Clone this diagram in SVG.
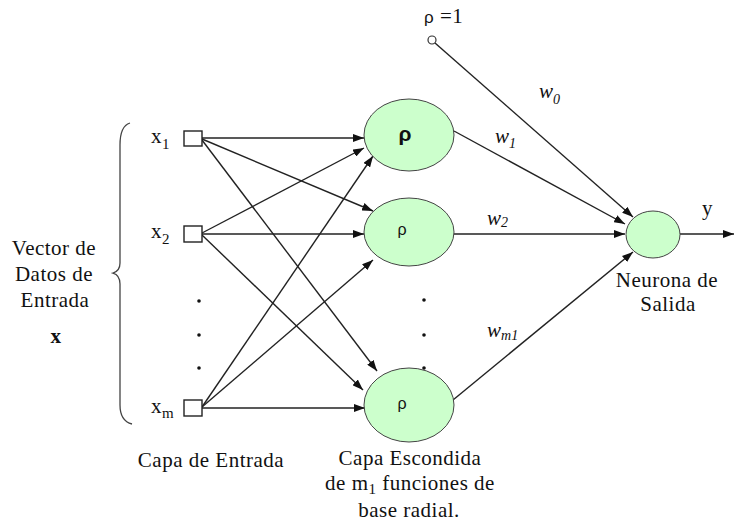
<svg xmlns="http://www.w3.org/2000/svg" width="734" height="525" viewBox="0 0 734 525">
  <defs>
    <marker id="arrow" markerUnits="userSpaceOnUse" markerWidth="11" markerHeight="8" refX="11" refY="4" orient="auto">
      <path d="M0,0 L11,4 L0,8 z" fill="#111"/>
    </marker>
    <style>
      .conn { stroke: #222; stroke-width: 1.4; fill: none; }
      .arr { marker-end: url(#arrow); }
      .hid { fill: #ccffcc; stroke: #444; stroke-width: 1; }
      .inp { fill: #fff; stroke: #222; stroke-width: 1.4; }
      .lbl { font-size: 21px; fill: #111; letter-spacing: 0.5px; }
      .mid { text-anchor: middle; }
      .w { font-style: italic; font-size: 21px; fill: #111; }
      .sub { font-size: 14px; }
      .xsub { font-size: 15px; }
      .rho { fill: #111; text-anchor: middle; font-family: "Liberation Sans", Arial, sans-serif; }
      .dot { fill: #111; }
    </style>
  </defs>

  <!-- connectors -->
  <g id="connectors">
    <!-- input layer to hidden layer -->
    <line class="conn arr" x1="202" y1="138" x2="364" y2="138"/>
    <line class="conn arr" x1="202" y1="139" x2="373" y2="211"/>
    <line class="conn arr" x1="202" y1="140" x2="377" y2="371"/>
    <line class="conn arr" x1="202" y1="233" x2="364" y2="148"/>
    <line class="conn arr" x1="202" y1="234" x2="364" y2="234"/>
    <line class="conn arr" x1="202" y1="235" x2="363" y2="390"/>
    <line class="conn arr" x1="202" y1="407" x2="373" y2="156"/>
    <line class="conn arr" x1="202" y1="407" x2="373" y2="260"/>
    <line class="conn arr" x1="202" y1="408" x2="365" y2="408"/>
    <!-- hidden layer and bias to output neuron -->
    <line class="conn arr" x1="435" y1="43" x2="633" y2="217"/>
    <line class="conn arr" x1="454" y1="131" x2="625" y2="224"/>
    <line class="conn arr" x1="454" y1="234" x2="625" y2="234"/>
    <line class="conn arr" x1="453" y1="400" x2="633" y2="252"/>
    <line class="conn arr" x1="680" y1="234" x2="734" y2="234"/>
  </g>

  <g font-family="'Liberation Serif', 'Times New Roman', serif">
    <!-- bracket grouping the input vector -->
    <path d="M130,123 Q120,126 120,145 L120,263 Q120,271 113,273 Q120,275 120,284 L120,405 Q120,421 132,424" fill="none" stroke="#444" stroke-width="1.3"/>
    <text class="lbl mid" x="54" y="255">Vector de</text>
    <text class="lbl mid" x="54" y="281">Datos de</text>
    <text class="lbl mid" x="55" y="307">Entrada</text>
    <text class="lbl mid" x="56" y="343" font-weight="bold">x</text>

    <!-- input nodes -->
    <g id="x1">
      <rect class="inp" x="184" y="131" width="18" height="15"/>
      <text class="lbl" x="151" y="143">x<tspan class="xsub" dy="6">1</tspan></text>
    </g>
    <g id="x2">
      <rect class="inp" x="184" y="226" width="18" height="16"/>
      <text class="lbl" x="151" y="238">x<tspan class="xsub" dy="6">2</tspan></text>
    </g>
    <g id="xm">
      <rect class="inp" x="184" y="400" width="18" height="16"/>
      <text class="lbl" x="151" y="413">x<tspan class="xsub" dy="5">m</tspan></text>
    </g>
    <g id="input-dots">
      <circle class="dot" cx="199" cy="301" r="1.8"/>
      <circle class="dot" cx="199" cy="335" r="1.8"/>
      <circle class="dot" cx="199" cy="368" r="1.8"/>
    </g>
    <text class="lbl mid" x="211" y="467">Capa de Entrada</text>

    <!-- bias input -->
    <g id="bias">
      <circle cx="432" cy="40" r="4" fill="#fff" stroke="#333" stroke-width="1.2"/>
      <text class="lbl" x="424" y="23" font-size="19"><tspan font-family="'Liberation Sans', Arial, sans-serif" font-size="17">ρ</tspan> =1</text>
    </g>

    <!-- hidden radial basis units -->
    <g id="h1">
      <ellipse class="hid" cx="409" cy="135" rx="45" ry="36"/>
      <text class="rho" x="405" y="141" font-size="21" font-weight="bold">ρ</text>
    </g>
    <g id="h2">
      <ellipse class="hid" cx="409" cy="232" rx="45" ry="34"/>
      <text class="rho" x="402" y="235" font-size="16">ρ</text>
    </g>
    <g id="hm">
      <ellipse class="hid" cx="409" cy="405" rx="45" ry="37"/>
      <text class="rho" x="402" y="409" font-size="16">ρ</text>
    </g>
    <g id="hidden-dots">
      <circle class="dot" cx="424" cy="300" r="1.8"/>
      <circle class="dot" cx="424" cy="335" r="1.8"/>
      <circle class="dot" cx="424" cy="368" r="1.8"/>
    </g>
    <text class="lbl mid" x="410" y="465">Capa Escondida</text>
    <text class="lbl mid" x="410" y="490">de m<tspan class="xsub" dy="4">1</tspan><tspan dy="-4"> funciones de</tspan></text>
    <text class="lbl mid" x="409" y="517">base radial.</text>

    <!-- weights -->
    <text class="w" x="539" y="98">w<tspan class="sub" dy="6">0</tspan></text>
    <text class="w" x="495" y="143">w<tspan class="sub" dy="5">1</tspan></text>
    <text class="w" x="487" y="225">w<tspan class="sub" dy="2">2</tspan></text>
    <text class="w" x="487" y="337">w<tspan class="sub" dy="3">m1</tspan></text>

    <!-- output neuron -->
    <g id="output">
      <ellipse class="hid" cx="653" cy="234.5" rx="27" ry="23.5"/>
      <text class="lbl mid" x="667" y="287">Neurona de</text>
      <text class="lbl mid" x="668" y="311">Salida</text>
    </g>
    <text class="lbl" x="702" y="215">y</text>
  </g>
</svg>
